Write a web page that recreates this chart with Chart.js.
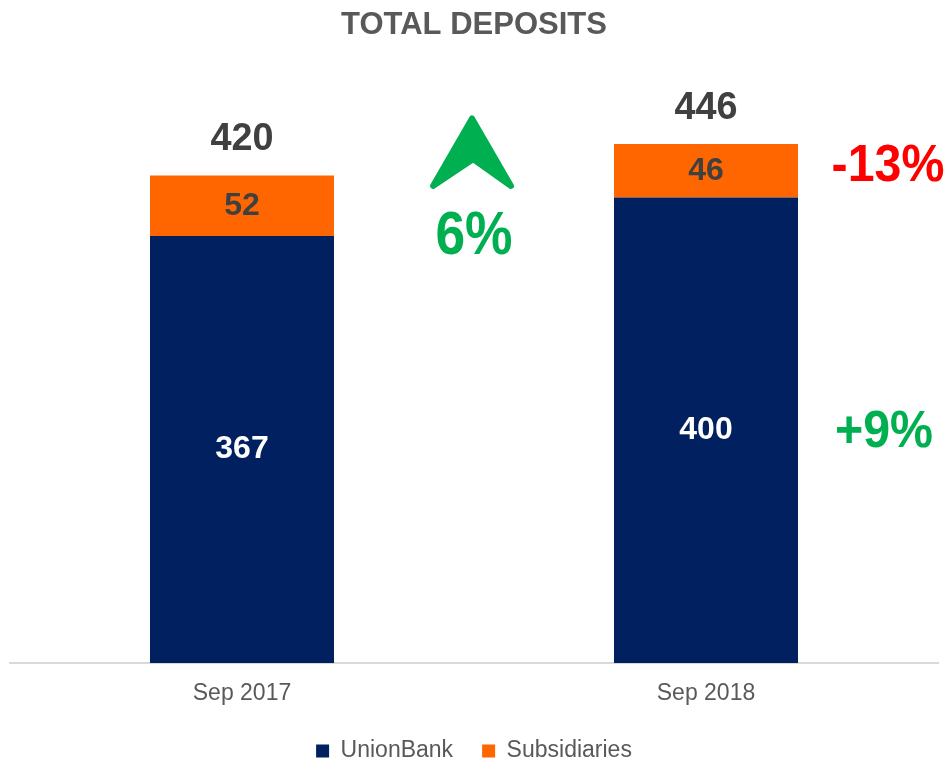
<!DOCTYPE html>
<html>
<head>
<meta charset="utf-8">
<script src="https://cdn.jsdelivr.net/npm/chart.js@4/dist/chart.umd.min.js"></script>
<style>
  html, body { margin: 0; padding: 0; background: #ffffff; }
  #wrap { width: 948px; height: 764px; }
</style>
</head>
<body>
<div id="wrap"><canvas id="c" width="948" height="764"></canvas></div>
<script>
const categories = ['Sep 2017', 'Sep 2018'];
const unionBank = [367, 400];
const subsidiaries = [52, 46];
const totals = [420, 446];
const growthTotal = '6%';
const growthSubsidiaries = '-13%';
const growthUnionBank = '+9%';

const NAVY = '#002060';
const ORANGE = '#FF6600';
const GREEN = '#00B050';
const RED = '#FF0000';
const FONT = "'Liberation Sans', Arial, Helvetica, sans-serif";

Chart.defaults.font.family = FONT;

function drawText(ctx, text, x, y, size, color, sx) {
  ctx.save();
  ctx.font = 'bold ' + size + 'px ' + FONT;
  ctx.fillStyle = color;
  ctx.textAlign = 'center';
  ctx.textBaseline = 'middle';
  ctx.translate(x, y);
  ctx.scale(sx || 1, 1);
  ctx.fillText(text, 0, 0);
  ctx.restore();
}

const labelPlugin = {
  id: 'labels',
  afterDatasetsDraw(chart) {
    const ctx = chart.ctx;
    const ys = chart.scales.y;
    // segment labels
    chart.data.datasets.forEach((ds, di) => {
      const meta = chart.getDatasetMeta(di);
      meta.data.forEach((bar, i) => {
        const cy = (bar.y + bar.base) / 2;
        drawText(ctx, String(ds.data[i]), bar.x, cy, 32, di === 0 ? '#ffffff' : '#404040', 1);
      });
    });
    // totals
    const topMeta = chart.getDatasetMeta(1);
    topMeta.data.forEach((bar, i) => {
      drawText(ctx, String(totals[i]), bar.x, bar.y - 36, 39, '#404040', 0.97);
    });
    // arrow + total growth between bars
    const b0 = topMeta.data[0], b1 = topMeta.data[1];
    const mid = (b0.x + b1.x) / 2;
    const ax = mid - 2;
    const tipY = ys.getPixelForValue(468);
    const baseY = ys.getPixelForValue(410);
    const notchY = ys.getPixelForValue(433);
    ctx.save();
    ctx.fillStyle = GREEN;
    ctx.strokeStyle = GREEN;
    ctx.lineWidth = 6;
    ctx.lineJoin = 'round';
    ctx.beginPath();
    ctx.moveTo(ax, tipY);
    ctx.lineTo(ax + 39, baseY);
    ctx.lineTo(ax + 1, notchY);
    ctx.lineTo(ax - 39, baseY);
    ctx.closePath();
    ctx.fill();
    ctx.stroke();
    ctx.restore();
    drawText(ctx, growthTotal, mid, ys.getPixelForValue(366), 62, GREEN, 0.86);
    // segment growths to the right of the second bar
    const u1 = chart.getDatasetMeta(0).data[1];
    const rightX = b1.x + b1.width / 2;
    drawText(ctx, growthSubsidiaries, rightX + 90, (b1.y + b1.base) / 2 - 4, 52, RED, 0.93);
    drawText(ctx, growthUnionBank, rightX + 86, (u1.y + u1.base) / 2 + 2, 52, GREEN, 0.93);
  }
};

new Chart(document.getElementById('c'), {
  type: 'bar',
  data: {
    labels: categories,
    datasets: [
      { label: 'UnionBank', data: unionBank, backgroundColor: NAVY, borderWidth: 0 },
      { label: 'Subsidiaries', data: subsidiaries, backgroundColor: ORANGE, borderWidth: 0 }
    ]
  },
  options: {
    responsive: false,
    animation: false,
    devicePixelRatio: 1,
    datasets: { bar: { categoryPercentage: 1, barPercentage: 0.3966 } },
    layout: { padding: { left: 10, right: 10, top: 0, bottom: 0 } },
    scales: {
      x: {
        stacked: true,
        grid: { display: false, drawTicks: false },
        border: { display: true, color: '#d9d9d9', width: 2 },
        ticks: { color: '#595959', font: { size: 23 }, padding: 17 },
        afterFit(scale) { scale.height = 47.5; }
      },
      y: { stacked: true, display: false, min: 0, max: 500 }
    },
    plugins: {
      title: {
        display: true,
        text: 'TOTAL DEPOSITS',
        color: '#595959',
        font: { size: 31, weight: 'bold' },
        padding: { top: 7, bottom: 37 }
      },
      legend: {
        position: 'bottom',
        maxHeight: 53.5,
        labels: { boxWidth: 13, boxHeight: 13, color: '#595959', font: { size: 23 }, padding: 29 }
      },
      tooltip: { enabled: false }
    }
  },
  plugins: [labelPlugin]
});
</script>
</body>
</html>
